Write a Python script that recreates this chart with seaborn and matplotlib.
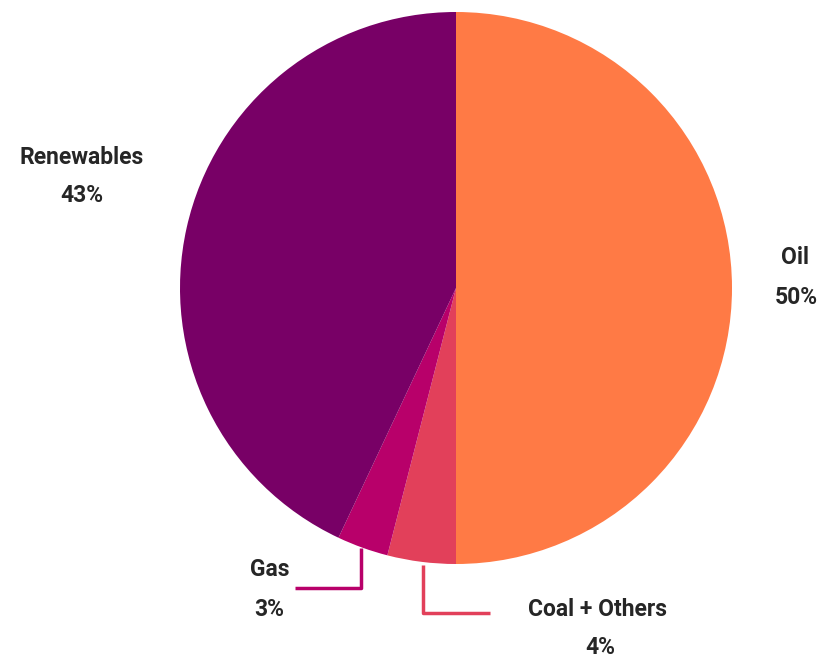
import matplotlib
matplotlib.use("Agg")
import matplotlib.pyplot as plt
import seaborn as sns

sns.set_theme(style="white")
plt.rcParams['font.family'] = ['Roboto', 'DejaVu Sans']

labels = ["Oil", "Coal + Others", "Gas", "Renewables"]
values = [50, 4, 3, 43]
colors = ["#FF7A45", "#E2405A", "#B8006A", "#780066"]

fig = plt.figure(figsize=(8.23, 6.6), dpi=100)
ax = fig.add_axes([0, 0, 1, 1])

cx, cy, r = 456, 288, 276
# y axis inverted: counterclock=True so wedges run clockwise visually
ax.pie(values, colors=colors, startangle=-90, counterclock=True,
       center=(cx, cy), radius=r, frame=True,
       wedgeprops=dict(linewidth=0))
ax.set_xlim(0, 823)
ax.set_ylim(660, 0)
ax.set_aspect("equal")
ax.axis("off")

tkw = dict(fontsize=16.5, fontweight="bold", color="#262626", ha="center", va="center")
ax.text(82, 157, "Renewables", **tkw)
ax.text(82, 195, "43%", **tkw)
ax.text(795, 258, "Oil", **tkw)
ax.text(796, 297, "50%", **tkw)
ax.text(270, 570, "Gas", **tkw)
ax.text(269, 610, "3%", **tkw)
ax.text(598, 609, "Coal + Others", **tkw)
ax.text(600, 648, "4%", **tkw)

ax.plot([361, 361, 295], [548, 588, 588], color="#B8006A", lw=2.5, solid_capstyle="butt")
ax.plot([423, 423, 490], [565, 613, 613], color="#E2405A", lw=2.5, solid_capstyle="butt")

fig.savefig("out.png", dpi=100, facecolor="white")
